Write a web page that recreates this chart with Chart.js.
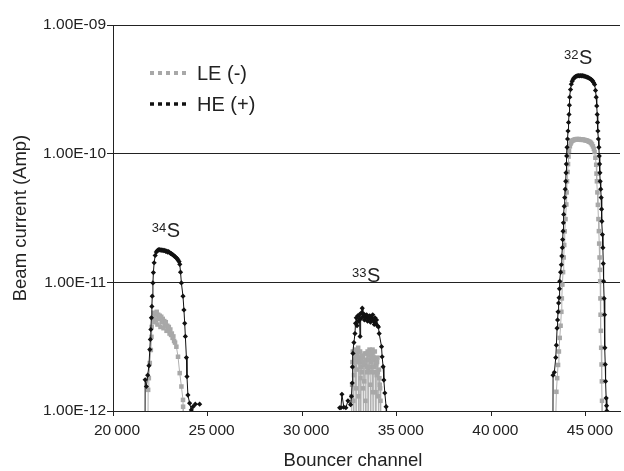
<!DOCTYPE html>
<html>
<head>
<meta charset="utf-8">
<script src="https://cdn.jsdelivr.net/npm/chart.js@4.4.1/dist/chart.umd.min.js"></script>
<style>
  html, body { margin: 0; padding: 0; background: #fff; }
  #wrap { width: 624px; height: 471px; }
</style>
</head>
<body>
<div id="wrap"><canvas id="chart" width="624" height="471"></canvas></div>
<script>
// axis ticks
const xTickValues = [20000, 25000, 30000, 35000, 40000, 45000];
const xTickLabels = ['20\u2009000', '25\u2009000', '30\u2009000', '35\u2009000', '40\u2009000', '45\u2009000'];
const yTickValues = [1e-12, 1e-11, 1e-10, 1e-9];
const yTickLabels = ['1.00E-12', '1.00E-11', '1.00E-10', '1.00E-09'];

// [bouncer channel, beam current (A)]; 4e-13 = below the axis
const he34S = [[21690, 4e-13], [21700, 1.75e-12], [21765, 1.55e-12], [21835, 1.9e-12], [21900, 2.25e-12], [21945, 3.0e-12], [21975, 3.6e-12], [22000, 4.3e-12], [22030, 5.3e-12], [22055, 6.5e-12], [22075, 7.8e-12], [22110, 9.9e-12], [22135, 1.19e-11], [22175, 1.42e-11], [22230, 1.62e-11], [22290, 1.72e-11], [22340, 1.76e-11], [22390, 1.79e-11], [22440, 1.80e-11], [22490, 1.78e-11], [22540, 1.79e-11], [22590, 1.77e-11], [22640, 1.78e-11], [22690, 1.76e-11], [22740, 1.77e-11], [22790, 1.74e-11], [22840, 1.75e-11], [22890, 1.72e-11], [22940, 1.73e-11], [22990, 1.70e-11], [23040, 1.68e-11], [23090, 1.67e-11], [23140, 1.64e-11], [23190, 1.63e-11], [23240, 1.60e-11], [23290, 1.58e-11], [23340, 1.55e-11], [23390, 1.53e-11], [23440, 1.49e-11], [23490, 1.45e-11], [23530, 1.38e-11], [23570, 1.2e-11], [23615, 9.9e-12], [23700, 7.8e-12], [23750, 6.1e-12], [23790, 4.8e-12], [23825, 3.8e-12], [23880, 2.6e-12], [23910, 1.85e-12], [23960, 1.33e-12], [24050, 1.15e-12], [24140, 1.02e-12], [24230, 1.08e-12], [24350, 1.13e-12], [24580, 1.13e-12]];
const he33S = [[31980, 1.06e-12], [32050, 1.06e-12], [32100, 1.35e-12], [32200, 1.07e-12], [32310, 1.06e-12], [32420, 1.2e-12], [32560, 1.12e-12], [32605, 1.3e-12], [32645, 1.65e-12], [32655, 2.2e-12], [32685, 2.8e-12], [32735, 3.4e-12], [32790, 4.0e-12], [32820, 4.8e-12], [32860, 5.3e-12], [32900, 4.6e-12], [32940, 5.5e-12], [32980, 5.0e-12], [33020, 5.6e-12], [33060, 3.8e-12], [33090, 5.2e-12], [33130, 5.8e-12], [33175, 6.3e-12], [33210, 5.4e-12], [33250, 5.7e-12], [33290, 5.1e-12], [33330, 5.5e-12], [33370, 5.3e-12], [33410, 5.6e-12], [33450, 5.0e-12], [33490, 5.4e-12], [33530, 5.2e-12], [33570, 5.5e-12], [33610, 4.9e-12], [33650, 5.3e-12], [33690, 5.1e-12], [33730, 5.6e-12], [33770, 5.0e-12], [33810, 4.7e-12], [33850, 5.3e-12], [33890, 4.8e-12], [33930, 5.1e-12], [33980, 4.6e-12], [34030, 4.5e-12], [34070, 4.0e-12], [34195, 3.16e-12], [34226, 2.64e-12], [34279, 2.21e-12], [34316, 1.74e-12], [34368, 1.38e-12], [34437, 1.08e-12], [34460, 4e-13]];
const he32S = [[43250, 4e-13], [43262, 1.9e-12], [43330, 2.0e-12], [43405, 2.6e-12], [43437, 3.25e-12], [43474, 4.4e-12], [43500, 5.1e-12], [43526, 5.9e-12], [43555, 6.9e-12], [43579, 7.6e-12], [43600, 8.9e-12], [43616, 1.02e-11], [43660, 1.2e-11], [43700, 1.37e-11], [43725, 1.6e-11], [43753, 1.86e-11], [43770, 2.15e-11], [43789, 2.5e-11], [43808, 2.9e-11], [43826, 3.37e-11], [43852, 3.9e-11], [43879, 4.56e-11], [43905, 5.3e-11], [43932, 6.1e-11], [43948, 7.1e-11], [43963, 8.3e-11], [43982, 9.6e-11], [44000, 1.12e-10], [44027, 1.3e-10], [44053, 1.5e-10], [44080, 1.75e-10], [44105, 2.02e-10], [44125, 2.38e-10], [44142, 2.75e-10], [44185, 3.15e-10], [44226, 3.47e-10], [44270, 3.65e-10], [44320, 3.78e-10], [44365, 3.87e-10], [44405, 3.92e-10], [44450, 3.97e-10], [44500, 4.0e-10], [44550, 4.02e-10], [44600, 4.04e-10], [44650, 4.03e-10], [44700, 4.05e-10], [44750, 4.03e-10], [44800, 4.04e-10], [44850, 4.02e-10], [44900, 4.0e-10], [44950, 3.99e-10], [45000, 3.96e-10], [45050, 3.94e-10], [45100, 3.91e-10], [45150, 3.88e-10], [45200, 3.84e-10], [45250, 3.8e-10], [45300, 3.75e-10], [45350, 3.68e-10], [45400, 3.58e-10], [45458, 3.45e-10], [45505, 3.1e-10], [45542, 2.75e-10], [45570, 2.35e-10], [45595, 2.02e-10], [45613, 1.75e-10], [45631, 1.5e-10], [45658, 1.3e-10], [45684, 1.12e-10], [45703, 9.6e-11], [45721, 8.3e-11], [45738, 7.1e-11], [45753, 6.1e-11], [45780, 5.3e-11], [45805, 4.56e-11], [45825, 3.7e-11], [45842, 2.98e-11], [45870, 2.35e-11], [45895, 1.86e-11], [45915, 1.4e-11], [45932, 1.02e-11], [45960, 7.5e-12], [45984, 5.6e-12], [46000, 3.1e-12], [46020, 2.3e-12], [46037, 1.7e-12], [46068, 1.26e-12], [46090, 1.1e-12], [46105, 1.0e-12], [46110, 4e-13]];

const le34S = [[21840, 4e-13], [21858, 1.46e-12], [21895, 1.8e-12], [21945, 2.36e-12], [22000, 2.98e-12], [22035, 3.77e-12], [22045, 4.5e-12], [22105, 5.3e-12], [22150, 5.8e-12], [22190, 4.9e-12], [22230, 5.7e-12], [22270, 5.1e-12], [22310, 5.9e-12], [22350, 4.7e-12], [22390, 5.6e-12], [22430, 5.2e-12], [22470, 5.5e-12], [22510, 4.5e-12], [22550, 5.4e-12], [22590, 4.9e-12], [22630, 5.2e-12], [22670, 4.4e-12], [22710, 5.0e-12], [22750, 4.7e-12], [22790, 4.9e-12], [22830, 4.2e-12], [22870, 4.6e-12], [22910, 4.3e-12], [22950, 4.5e-12], [22990, 4.0e-12], [23030, 4.3e-12], [23070, 3.9e-12], [23110, 4.0e-12], [23150, 3.7e-12], [23190, 3.8e-12], [23230, 3.5e-12], [23280, 3.4e-12], [23350, 3.16e-12], [23437, 2.64e-12], [23526, 1.97e-12], [23616, 1.55e-12], [23700, 1.22e-12], [23705, 1.08e-12], [23720, 4e-13]];
const le33S = [[32590, 4e-13], [32615, 1.3e-12], [32640, 1.6e-12], [32660, 2.4e-12], [32680, 2.9e-12], [32700, 1.2e-12], [32720, 4e-13], [32740, 1.9e-12], [32760, 2.5e-12], [32780, 2.2e-12], [32800, 3.0e-12], [32820, 2.6e-12], [32840, 1.5e-12], [32860, 4e-13], [32880, 2.1e-12], [32900, 2.7e-12], [32920, 2.9e-12], [32940, 2.4e-12], [32960, 3.1e-12], [32980, 1.3e-12], [33000, 4e-13], [33020, 2.6e-12], [33040, 2.4e-12], [33060, 2.9e-12], [33080, 1.8e-12], [33100, 4e-13], [33120, 2.2e-12], [33140, 2.0e-12], [33160, 2.7e-12], [33180, 2.4e-12], [33200, 2.6e-12], [33220, 1.5e-12], [33240, 4e-13], [33260, 2.3e-12], [33280, 1.7e-12], [33300, 2.8e-12], [33320, 2.3e-12], [33340, 1.2e-12], [33360, 4e-13], [33380, 2.5e-12], [33400, 2.8e-12], [33420, 2.2e-12], [33440, 2.0e-12], [33460, 2.9e-12], [33480, 4e-13], [33500, 2.1e-12], [33520, 2.5e-12], [33540, 2.7e-12], [33560, 3.0e-12], [33580, 2.2e-12], [33600, 1.6e-12], [33620, 4e-13], [33640, 2.4e-12], [33660, 2.0e-12], [33680, 2.8e-12], [33700, 2.6e-12], [33720, 3.0e-12], [33740, 1.4e-12], [33760, 4e-13], [33780, 2.6e-12], [33800, 2.2e-12], [33820, 2.5e-12], [33840, 2.9e-12], [33860, 2.0e-12], [33880, 1.4e-12], [33900, 4e-13], [33920, 2.3e-12], [33940, 1.9e-12], [33960, 2.4e-12], [33980, 2.6e-12], [34000, 2.0e-12], [34020, 1.3e-12], [34040, 4e-13], [34060, 2.1e-12], [34080, 1.8e-12], [34100, 1.6e-12], [34120, 1.5e-12], [34140, 1.2e-12], [34160, 4e-13]];
const le32S = [[43350, 4e-13], [43437, 1.41e-12], [43480, 1.8e-12], [43526, 2.28e-12], [43570, 2.9e-12], [43616, 3.7e-12], [43660, 4.6e-12], [43700, 5.9e-12], [43725, 7.5e-12], [43753, 9.6e-12], [43790, 1.2e-11], [43826, 1.56e-11], [43852, 1.95e-11], [43879, 2.49e-11], [43920, 3.1e-11], [43963, 4.03e-11], [43980, 5.0e-11], [44000, 6.1e-11], [44030, 7.2e-11], [44053, 8.3e-11], [44080, 9.5e-11], [44105, 1.05e-10], [44150, 1.14e-10], [44190, 1.2e-10], [44226, 1.23e-10], [44270, 1.26e-10], [44320, 1.27e-10], [44370, 1.28e-10], [44420, 1.29e-10], [44470, 1.29e-10], [44520, 1.3e-10], [44570, 1.29e-10], [44620, 1.3e-10], [44670, 1.29e-10], [44720, 1.29e-10], [44770, 1.28e-10], [44820, 1.29e-10], [44870, 1.28e-10], [44920, 1.28e-10], [44970, 1.27e-10], [45020, 1.27e-10], [45070, 1.26e-10], [45120, 1.25e-10], [45170, 1.24e-10], [45220, 1.23e-10], [45270, 1.21e-10], [45320, 1.18e-10], [45370, 1.14e-10], [45420, 1.09e-10], [45458, 1.03e-10], [45500, 9.3e-11], [45542, 8.2e-11], [45560, 7.0e-11], [45579, 6.1e-11], [45605, 5.0e-11], [45631, 4.0e-11], [45660, 3.1e-11], [45684, 2.5e-11], [45700, 2.0e-11], [45721, 1.56e-11], [45740, 1.25e-11], [45753, 1.02e-11], [45765, 7.5e-12], [45774, 5.6e-12], [45790, 4.2e-12], [45805, 3.1e-12], [45825, 2.3e-12], [45842, 1.7e-12], [45850, 1.2e-12], [45858, 4e-13]];

// isotope labels, anchored in data space (channel, current)
const isotopes = [
  { mass: '34', ch: 22053, amp: 2.26e-11 },
  { mass: '33', ch: 32631, amp: 1.01e-11 },
  { mass: '32', ch: 43842, amp: 4.97e-10 }
];

const FONT = '"Liberation Sans", Arial, Helvetica, sans-serif';
const INK = '#222';
Chart.defaults.font.family = FONT;
Chart.defaults.color = INK;

// join the peaks with a null so the line breaks between them
function series(...peaks) {
  const out = [];
  peaks.forEach((p, i) => {
    if (i) out.push({ x: (p[0][0] + out[out.length - 1].x) / 2, y: null });
    p.forEach(([x, y]) => out.push({ x, y }));
  });
  return out;
}

const overlay = {
  id: 'overlay',
  afterDraw(chart) {
    const { ctx, chartArea: a, scales: { x, y } } = chart;
    ctx.save();
    ctx.fillStyle = INK;
    ctx.textBaseline = 'alphabetic';
    isotopes.forEach(t => {
      const px = x.getPixelForValue(t.ch), py = y.getPixelForValue(t.amp);
      ctx.font = '13px ' + FONT;
      ctx.fillText(t.mass, px, py - 5);
      const w = ctx.measureText(t.mass).width;
      ctx.font = '20px ' + FONT;
      ctx.fillText('S', px + w + 0.5, py);
    });

    // x axis title sits a little left of the plot centre in the original
    ctx.font = '18.5px ' + FONT;
    ctx.textAlign = 'center';
    ctx.fillText('Bouncer channel', a.left + 240, chart.height - 5);
    ctx.textAlign = 'left';

    // legend
    const items = chart.data.datasets.slice().reverse();
    items.forEach((ds, i) => {
      const ly = a.top + 48 + i * 31;
      ctx.beginPath();
      ctx.setLineDash([4, 4]);
      ctx.lineWidth = ds.legendDot;
      ctx.strokeStyle = ds.pointBackgroundColor;
      ctx.moveTo(a.left + 37, ly);
      ctx.lineTo(a.left + 76, ly);
      ctx.stroke();
      ctx.setLineDash([]);
      ctx.font = '20px ' + FONT;
      ctx.textBaseline = 'middle';
      ctx.fillStyle = INK;
      ctx.fillText(ds.label, a.left + 84, ly + 1);
    });
    ctx.restore();
  }
};

new Chart(document.getElementById('chart'), {
  type: 'line',
  data: {
    datasets: [
      {
        label: 'HE (+)', data: series(he34S, he33S, he32S),
        borderColor: '#111', borderWidth: 1, tension: 0, spanGaps: false,
        pointStyle: 'rectRot', pointRadius: 2.6, pointBorderWidth: 0,
        pointBackgroundColor: '#111', legendDot: 3.5
      },
      {
        label: 'LE (-)', data: series(le34S, le33S, le32S),
        borderColor: '#b0b0b0', borderWidth: 1, tension: 0, spanGaps: false,
        pointStyle: 'rect', pointRadius: 3.2, pointBorderWidth: 0,
        pointBackgroundColor: '#a8a8a8', legendDot: 4
      }
    ]
  },
  options: {
    responsive: false,
    animation: false,
    devicePixelRatio: 1,
    layout: { padding: { top: 25, right: 2, left: 0, bottom: 0 } },
    plugins: { legend: { display: false }, tooltip: { enabled: false } },
    scales: {
      x: {
        type: 'linear', min: 20000, max: 46800,
        afterBuildTicks: s => { s.ticks = xTickValues.map(v => ({ value: v })); },
        afterFit: s => { s.height = 60; },
        ticks: {
          callback: v => xTickLabels[xTickValues.indexOf(v)],
          color: INK, font: { size: 15.5 }, padding: 5, labelOffset: 4,
          maxRotation: 0, autoSkip: false
        },
        grid: { drawOnChartArea: false, tickLength: 5, color: INK },
        border: { color: INK, width: 1 },
        title: { display: false }
      },
      y: {
        type: 'logarithmic', min: 1e-12, max: 1e-9,
        afterBuildTicks: s => { s.ticks = yTickValues.map(v => ({ value: v })); },
        afterFit: s => { s.width = 113; },
        ticks: {
          callback: v => yTickLabels[yTickValues.indexOf(v)],
          color: INK, font: { size: 15.5 }, padding: 1, autoSkip: false
        },
        grid: { color: INK, lineWidth: 1, tickLength: 6 },
        border: { color: INK, width: 1 },
        title: { display: true, text: 'Beam current (Amp)', color: INK, font: { size: 18.5 }, padding: { top: 10, bottom: 0 } }
      }
    }
  },
  plugins: [overlay]
});
</script>
</body>
</html>
